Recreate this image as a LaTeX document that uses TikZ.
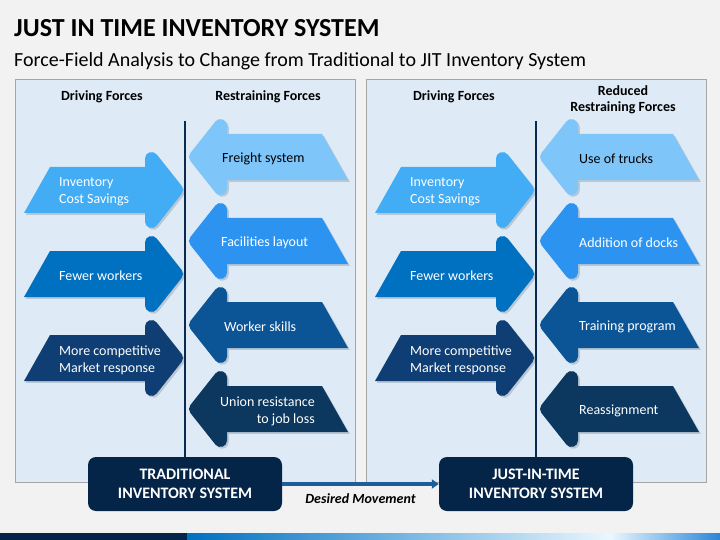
\documentclass[tikz,border=0pt]{standalone}
\usepackage{fontspec}
\setmainfont{Carlito}
\usepackage{xcolor}
\definecolor{jBg}{HTML}{F2F2F2}
\definecolor{jPanel}{HTML}{DEEBF7}
\definecolor{jEdge}{HTML}{A6A6A6}
\definecolor{jNavy}{HTML}{042448}
\definecolor{jLine}{HTML}{0B2A4F}
\definecolor{jMove}{HTML}{1F5C99}
\definecolor{jShade}{HTML}{B9C6D3}
\definecolor{dA}{HTML}{42ADF5}
\definecolor{dB}{HTML}{0070C0}
\definecolor{dC}{HTML}{0E3E73}
\definecolor{rA}{HTML}{7EC6FA}
\definecolor{rB}{HTML}{2C94F0}
\definecolor{rC}{HTML}{0B5596}
\definecolor{rD}{HTML}{0C375F}
\definecolor{jStripA}{HTML}{0070C0}
\definecolor{jStripB}{HTML}{3CC0F0}
\definecolor{jStripC}{HTML}{EAF7FF}
\definecolor{jStripD}{HTML}{2A86D6}
\usetikzlibrary{arrows.meta, positioning}

\begin{document}
\begin{tikzpicture}[
  x=1pt, y=-1pt,
  every node/.style={font=\fontsize{14}{17}\selectfont, inner sep=0pt},
  hdr/.style={font=\bfseries\fontsize{14}{16.5}\selectfont, align=center, yshift=-1pt},
  dtxt/.style={anchor=west, align=left, text=white, yshift=-2pt},
  rtxt/.style={anchor=west, align=right, text=white, yshift=-2pt},
  sysbox/.style={rectangle, rounded corners=8pt, fill=jNavy, text=white,
                 minimum width=194pt, minimum height=54pt, align=center,
                 font=\bfseries\fontsize{16}{18.5}\selectfont},
  panel/.style={fill=jPanel, draw=jEdge, line width=0.8pt},
  divline/.style={draw=jLine, line width=2pt},
  move/.style={-{Triangle[length=7pt, width=9pt]}, draw=jMove, line width=3.5pt},
  pics/force/.style 2 args={code={
    \foreach \o/\fc in {1.8/jShade, 0/#2} {
      \begin{scope}[shift={(\o,\o)}, xscale=#1, fill=\fc, draw=\fc]
        \fill (-133,-23) -- (-30,-23) -- (-30,23) -- (-159,23) -- cycle;
        \filldraw[line width=13pt, line join=round]
          (-31.5,-31.5) -- (-6.5,0) -- (-31.5,31.5) -- cycle;
      \end{scope}
    }
  }}
]
\fill[jBg] (0,0) rectangle (720,540);
\useasboundingbox (0,0) rectangle (720,540);

\node[anchor=base west, font=\bfseries\fontsize{26}{30}\selectfont] (title) at (14,37)
  {JUST IN TIME INVENTORY SYSTEM};
\node[anchor=base west, font=\fontsize{20}{24}\selectfont] (subtitle) at (14,67)
  {Force-Field Analysis to Change from Traditional to JIT Inventory System};

\foreach \s in {0,351}
  \draw[panel] (15+\s,79) rectangle (355+\s,482);

\node[hdr] (drv1) at (102,96) {Driving Forces};
\node[hdr] (rst1) at (268,96) {Restraining Forces};
\node[hdr] (drv2) at (454,96) {Driving Forces};
\node[hdr] (rst2) at (623,99) {Reduced\\Restraining Forces};

\foreach \s in {0,351} {
  \foreach \y/\col in {190/dA, 274/dB, 358/dC}
    \pic at (183+\s,\y) {force={1}{\col}};
  \foreach \y/\col in {157/rA, 241/rB, 325/rC, 409/rD}
    \pic at (189+\s,\y) {force={-1}{\col}};
}

\foreach \s/\p in {0/1, 351/2} {
  \node[dtxt] (cost\p) at (59+\s,190) {Inventory\\Cost Savings};
  \node[dtxt] (work\p) at (59+\s,274) {Fewer workers};
  \node[dtxt] (mkt\p)  at (59+\s,358) {More competitive\\Market response};
}
\node[rtxt, text=black] (frt) at (222,157) {Freight system};
\node[rtxt] (fac) at (221,241) {Facilities layout};
\node[rtxt] (skl) at (224,325) {Worker skills};
\node[rtxt] (uni) at (220,409) {Union resistance\\to job loss};
\node[rtxt, text=black] (trk) at (579,157) {Use of trucks};
\node[rtxt] (dck) at (579,241) {Addition of docks};
\node[rtxt] (trn) at (579,325) {Training program};
\node[rtxt] (rea) at (579,409) {Reassignment};

\node[sysbox] (trad) at (185,484) {TRADITIONAL\\INVENTORY SYSTEM};
\node[sysbox] (jit)  at (536,484) {JUST-IN-TIME\\INVENTORY SYSTEM};
\coordinate (top1) at (185,121);
\coordinate (top2) at (536,121);
\draw[divline] (top1) -- (trad);
\draw[divline] (top2) -- (jit);
\draw[move] (trad) -- (jit)
  node[midway, below=8pt, font=\bfseries\itshape\fontsize{14}{16}\selectfont] (mv) {Desired Movement};

\fill[jNavy] (0,533) rectangle (187,540);
\shade[left color=jStripA, middle color=jStripB, right color=jStripC] (187,533) rectangle (610,540);
\shade[left color=jStripC, right color=jStripD] (610,533) rectangle (720,540);
\end{tikzpicture}
\end{document}
